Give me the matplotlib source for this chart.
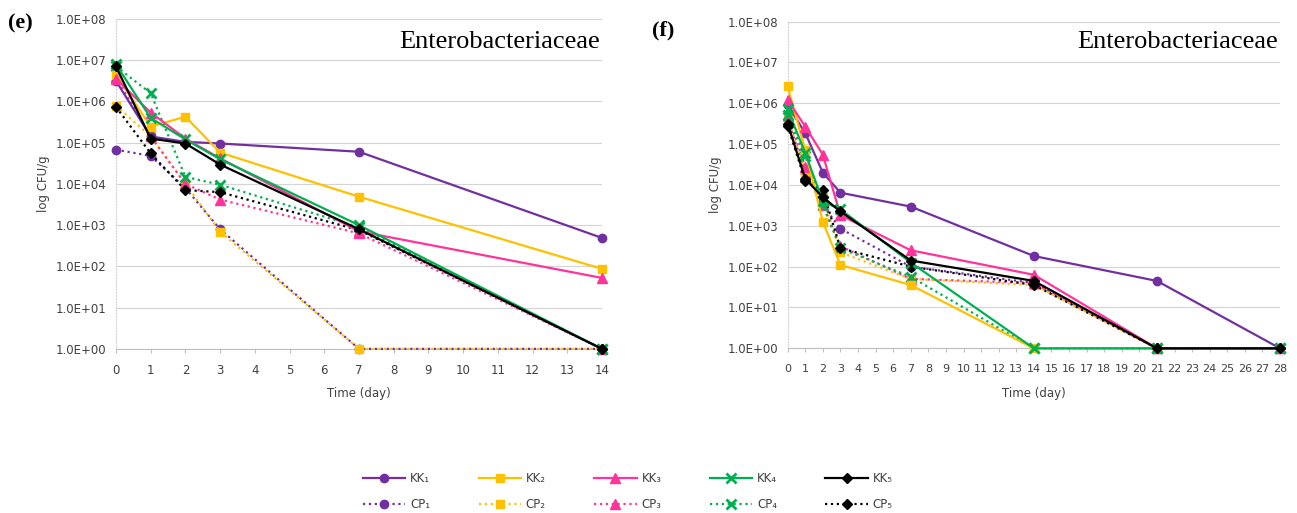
import numpy as np
import matplotlib.pyplot as plt
from matplotlib.lines import Line2D

# ---------------------------------------------------------------------------
# data (log10 CFU/g)
days_e = [0, 1, 2, 3, 7, 14]
days_f = [0, 1, 2, 3, 7, 14, 21, 28]

kk_e = {
    "KK1": [6.50, 5.15, 5.02, 4.98, 4.78, 2.69],
    "KK2": [6.65, 5.39, 5.63, 4.76, 3.69, 1.94],
    "KK3": [6.55, 5.73, 5.10, 4.62, 2.85, 1.72],
    "KK4": [6.90, 5.60, 5.08, 4.60, 3.00, 0.00],
    "KK5": [6.85, 5.10, 4.98, 4.47, 2.90, 0.00],
}
cp_e = {
    "CP1": [4.83, 4.68, 3.90, 2.90, 0.00, 0.00],
    "CP2": [5.90, 5.15, 4.00, 2.84, 0.00, 0.00],
    "CP3": [6.60, 5.15, 4.00, 3.62, 2.80, 0.00],
    "CP4": [6.85, 6.20, 4.17, 3.98, 2.95, 0.00],
    "CP5": [5.87, 4.74, 3.85, 3.80, 2.88, 0.00],
}

kk_f = {
    "KK1": [5.95, 5.27, 4.30, 3.81, 3.47, 2.26, 1.65, 0.00],
    "KK2": [6.41, 4.85, 3.10, 2.04, 1.55, 0.00, 0.00, 0.00],
    "KK3": [6.08, 5.43, 4.74, 3.26, 2.40, 1.80, 0.00, 0.00],
    "KK4": [5.85, 4.78, 3.60, 3.40, 2.10, 0.00, 0.00, 0.00],
    "KK5": [5.50, 4.15, 3.70, 3.35, 2.15, 1.65, 0.00, 0.00],
}
cp_f = {
    "CP1": [5.60, 4.30, 3.50, 2.93, 2.00, 1.60, 0.00, 0.00],
    "CP2": [5.65, 4.30, 3.70, 2.35, 1.70, 1.55, 0.00, 0.00],
    "CP3": [5.70, 4.45, 3.50, 2.50, 1.70, 1.60, 0.00, 0.00],
    "CP4": [5.70, 4.70, 3.50, 2.45, 1.75, 0.00, 0.00, 0.00],
    "CP5": [5.45, 4.10, 3.87, 2.45, 2.00, 1.55, 0.00, 0.00],
}

ytick_labels = ["1.0E+00", "1.0E+01", "1.0E+02", "1.0E+03",
                "1.0E+04", "1.0E+05", "1.0E+06", "1.0E+07", "1.0E+08"]
legend_kk = ["KK₁", "KK₂", "KK₃", "KK₄", "KK₅"]
legend_cp = ["CP₁", "CP₂", "CP₃", "CP₄", "CP₅"]

colors = ["#7030A0", "#FFC000", "#FF3399", "#00B050", "#000000"]
markers = ["o", "s", "^", "x", "D"]
msizes = [6, 6, 6.5, 6.5, 5]

# ---------------------------------------------------------------------------
fig = plt.figure(figsize=(12.97, 5.13), dpi=100)
ax_e = fig.add_axes([0.0894, 0.320, 0.3747, 0.643])
ax_f = fig.add_axes([0.6073, 0.321, 0.3796, 0.637])


def draw_panel(ax, days, kk, cp, xmax, xfs, title_y, xlpad):
    ax.set_yscale("log")
    for i, c in enumerate(cp):
        ax.plot(days, 10.0 ** np.array(cp[c]), ls=":", lw=1.6, color=colors[i],
                marker=markers[i], ms=msizes[i], mew=2 if markers[i] == "x" else 1,
                zorder=3)
    for i, k in enumerate(kk):
        ax.plot(days, 10.0 ** np.array(kk[k]), ls="-", lw=1.6, color=colors[i],
                marker=markers[i], ms=msizes[i], mew=2 if markers[i] == "x" else 1,
                zorder=4)
    ax.set_xlim(0, xmax)
    ax.set_ylim(1, 1e8)
    ax.set_yticks([10.0 ** k for k in range(9)])
    ax.set_yticklabels(ytick_labels)
    ax.minorticks_off()
    ax.set_xticks(range(xmax + 1))
    ax.grid(axis="y", color="#d4d4d4", lw=0.8)
    for s in ["top", "right"]:
        ax.spines[s].set_visible(False)
    ax.spines["left"].set_color("#d4d4d4")
    ax.spines["left"].set_linestyle(":")
    ax.spines["bottom"].set_color("#bfbfbf")
    ax.tick_params(axis="y", length=0, labelsize=8.5, labelcolor="#404040", pad=7)
    ax.tick_params(axis="x", length=3, color="#bfbfbf", labelsize=xfs,
                   labelcolor="#404040", pad=8)
    ax.set_ylabel("log CFU/g", fontsize=8.5, color="#404040", labelpad=4)
    ax.set_xlabel("Time (day)", fontsize=8.5, color="#404040", labelpad=xlpad)
    ax.text(0.995, title_y, "Enterobacteriaceae", transform=ax.transAxes,
            ha="right", va="center", fontsize=19, family="Liberation Serif")
    for ln in ax.lines:
        ln.set_clip_on(False)


draw_panel(ax_e, days_e, kk_e, cp_e, 14, 8.5, 0.93, 7)
draw_panel(ax_f, days_f, kk_f, cp_f, 28, 8, 0.938, 10)

fig.text(0.006, 0.955, "(e)", fontsize=16, fontweight="bold",
         family="Liberation Serif", va="center")
fig.text(0.503, 0.94, "(f)", fontsize=16, fontweight="bold",
         family="Liberation Serif", va="center")

# legend: KK row on top, CP row below
handles, labels = [], []
for i in range(5):
    for ls, lab in [("-", legend_kk[i]), (":", legend_cp[i])]:
        handles.append(Line2D([], [], color=colors[i], ls=ls, lw=1.6,
                              marker=markers[i], ms=msizes[i],
                              mew=2 if markers[i] == "x" else 1))
        labels.append(lab)
fig.legend(handles, labels, ncol=5, loc="center", bbox_to_anchor=(0.484, 0.042),
           frameon=False, fontsize=8.5, handlelength=3.6, columnspacing=4.1,
           labelcolor="#404040", handletextpad=0.4, labelspacing=1.15)

fig.savefig("out.png", dpi=100)
